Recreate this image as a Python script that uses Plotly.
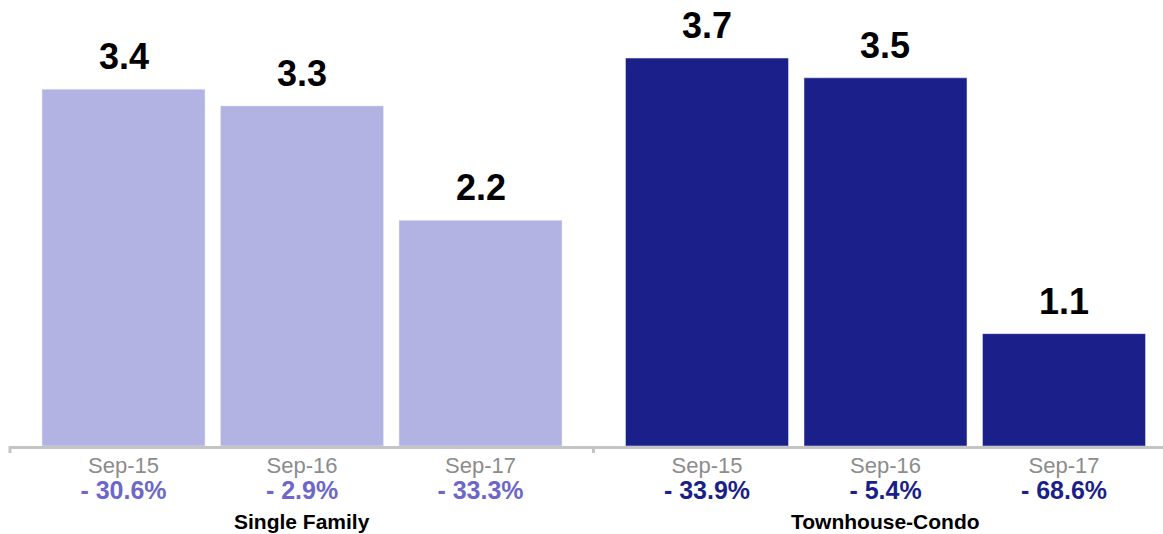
import plotly.graph_objects as go

# ---- data ----
groups = ["Single Family", "Townhouse-Condo"]
months = ["Sep-15", "Sep-16", "Sep-17"]
sf_values = [3.43, 3.27, 2.17]
tc_values = [3.73, 3.54, 1.08]
sf_change = ["- 30.6%", "- 2.9%", "- 33.3%"]
tc_change = ["- 33.9%", "- 5.4%", "- 68.6%"]

# ---- styles ----
FONT = "Liberation Sans, Arial, Helvetica, sans-serif"
LIGHT = "#b3b3e3"
LIGHT_TXT = "#6c67c9"
DARK = "#1b1f8a"
GRAY_TXT = "#8c8c8c"
LINE = "#c4c4c4"

W, H = 1163, 534
ML, MR, MT, MB = 10, 0, 0, 88
plot_w = W - ML - MR
plot_h = H - MT - MB
split_px = 583.5            # width of first group on the axis
unit_px = 178.5             # distance between bar centres
split = split_px / plot_w
left_pad = (123.5 - ML) / unit_px

ymax = plot_h / 104.0

def ticktext(changes, color):
    return [
        f"<span style='font-size:22px;color:{GRAY_TXT}'>{m}</span><br>"
        f"<span style='font-size:25px;color:{color}'><b>{c}</b></span>"
        for m, c in zip(months, changes)
    ]

fig = go.Figure()
fig.add_trace(go.Bar(x=months, y=sf_values, marker_color=LIGHT, xaxis="x", yaxis="y",
                     hoverinfo="skip"))
fig.add_trace(go.Bar(x=months, y=tc_values, marker_color=DARK, xaxis="x2", yaxis="y",
                     hoverinfo="skip"))

annotations = []
for xr, vals in (("x", sf_values), ("x2", tc_values)):
    for m, v in zip(months, vals):
        annotations.append(dict(
            x=m, y=v, xref=xr, yref="y", text=f"<b>{v:.1f}</b>",
            showarrow=False, yanchor="bottom", yshift=10,
            font=dict(family=FONT, size=36, color="#000000")))
for xr, g in (("x", groups[0]), ("x2", groups[1])):
    annotations.append(dict(
        x=months[1], y=0, xref=xr, yref="paper", text=f"<b>{g}</b>",
        showarrow=False, yanchor="top", yshift=-62,
        font=dict(family=FONT, size=21, color="#000000")))

tick_h = 7 / plot_h
shapes = [
    dict(type="line", xref="x domain", yref="paper", x0=0, x1=0, y0=0, y1=-tick_h,
         line=dict(color=LINE, width=3)),
    dict(type="line", xref="x2 domain", yref="paper", x0=0, x1=0, y0=0, y1=-tick_h,
         line=dict(color=LINE, width=3)),
]

xcommon = dict(type="category", showline=True, linecolor=LINE, linewidth=3,
               showgrid=False, zeroline=False, ticks="", fixedrange=True,
               tickfont=dict(family=FONT, size=20, color=GRAY_TXT))

fig.update_layout(
    width=W, height=H,
    margin=dict(l=ML, r=MR, t=MT, b=MB),
    paper_bgcolor="white", plot_bgcolor="white",
    showlegend=False, bargap=0.087,
    font=dict(family=FONT),
    xaxis=dict(**xcommon, domain=[0, split],
               range=[-left_pad, -left_pad + split_px / unit_px],
               tickvals=months, ticktext=ticktext(sf_change, LIGHT_TXT)),
    xaxis2=dict(**xcommon, domain=[split, 1], anchor="y",
                range=[-left_pad, -left_pad + (plot_w - split_px) / unit_px],
                tickvals=months, ticktext=ticktext(tc_change, DARK)),
    yaxis=dict(range=[0, ymax], visible=False, fixedrange=True),
    annotations=annotations, shapes=shapes,
)

fig.write_html("out.html", config={"displayModeBar": False},
               post_script="document.body.style.margin='0';document.body.style.overflow='hidden';")
